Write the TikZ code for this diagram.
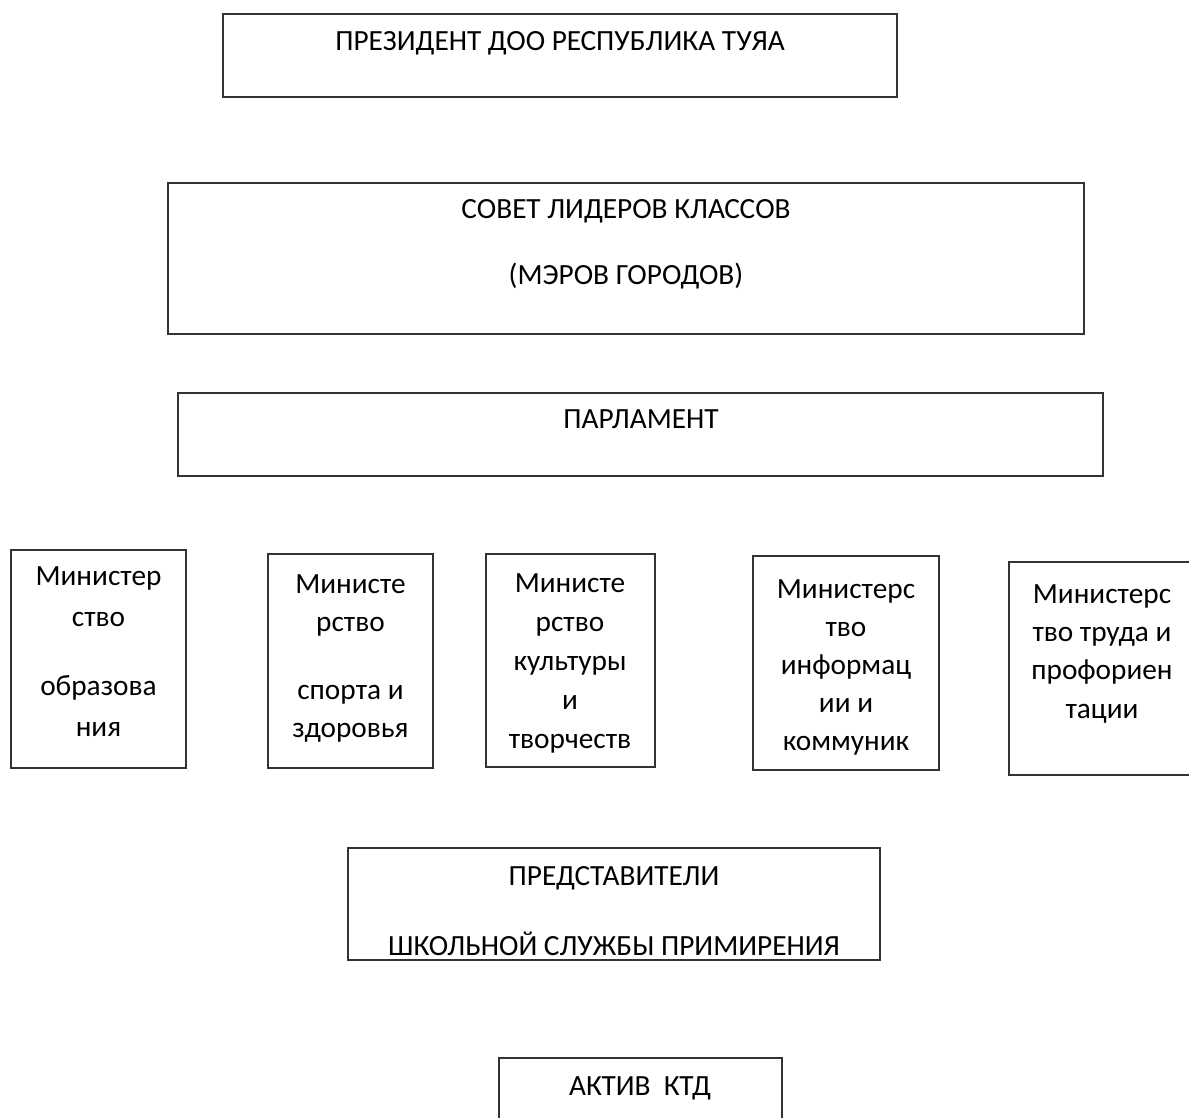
\documentclass[tikz,border=0pt]{standalone}
\usepackage{fontspec}
\setmainfont{Carlito}
\usepackage{tikz}
\newcommand{\topstrut}{\rule{0pt}{27pt}}

\begin{document}
\begin{tikzpicture}[x=1pt,y=-1pt,
	box/.style={shape=rectangle,draw=black!80,line width=1.2pt,inner sep=0pt},
	txt/.style={align=center,inner sep=0pt,anchor=north,font=\fontsize{29.3}{#1}\selectfont},
	txt/.default=39]
	\useasboundingbox (0,0) rectangle (1189,1118);
	\clip (0,0) rectangle (1189,1118);
	\node[box,minimum width=674,minimum height=83]  (pres)    at (560,55.5)   {};
	\node[box,minimum width=916,minimum height=151] (council) at (626,258.5)  {};
	\node[box,minimum width=925,minimum height=83]  (parl)    at (640.5,434.5) {};
	\node[box,minimum width=175,minimum height=218] (edu)     at (98.5,659)   {};
	\node[box,minimum width=165,minimum height=214] (sport)   at (350.5,661)  {};
	\node[box,minimum width=169,minimum height=213] (cult)    at (570.5,660.5) {};
	\node[box,minimum width=186,minimum height=214] (info)    at (846,663)    {};
	\node[box,minimum width=186,minimum height=213] (labour)  at (1102,668.5) {};
	\node[box,minimum width=532,minimum height=112] (repr)    at (614,904)    {};
	\node[box,minimum width=283,minimum height=100] (aktiv)   at (640.5,1108) {};
	\node[txt]      (presT)    at (560,23)     {\topstrut ПРЕЗИДЕНТ ДОО РЕСПУБЛИКА ТУЯА};
	\node[txt]      (councilT) at (626,191)    {\topstrut СОВЕТ ЛИДЕРОВ КЛАССОВ\\[27pt](МЭРОВ ГОРОДОВ)};
	\node[txt]      (parlT)    at (641,401)    {\topstrut ПАРЛАМЕНТ};
	\node[txt=41]   (eduT)     at (98.5,558)   {\topstrut Министер\\ство\\[28pt]образова\\ния};
	\node[txt=38]   (sportT)   at (350.5,566)  {\topstrut Министе\\рство\\[30pt]спорта и\\здоровья};
	\node[txt]      (cultT)    at (570,565)    {\topstrut Министе\\рство\\культуры\\и\\творчеств};
	\node[txt=38]   (infoT)    at (846,571)    {\topstrut Министерс\\тво\\информац\\ии и\\коммуник};
	\node[txt=38.3] (labourT)  at (1102,576)   {\topstrut Министерс\\тво труда и\\профориен\\тации};
	\node[txt]      (reprT)    at (614,858)    {\topstrut ПРЕДСТАВИТЕЛИ\\[31pt]ШКОЛЬНОЙ СЛУЖБЫ ПРИМИРЕНИЯ};
	\node[txt]      (aktivT)   at (640,1068)   {\topstrut АКТИВ\ \ КТД};
\end{tikzpicture}
\end{document}
